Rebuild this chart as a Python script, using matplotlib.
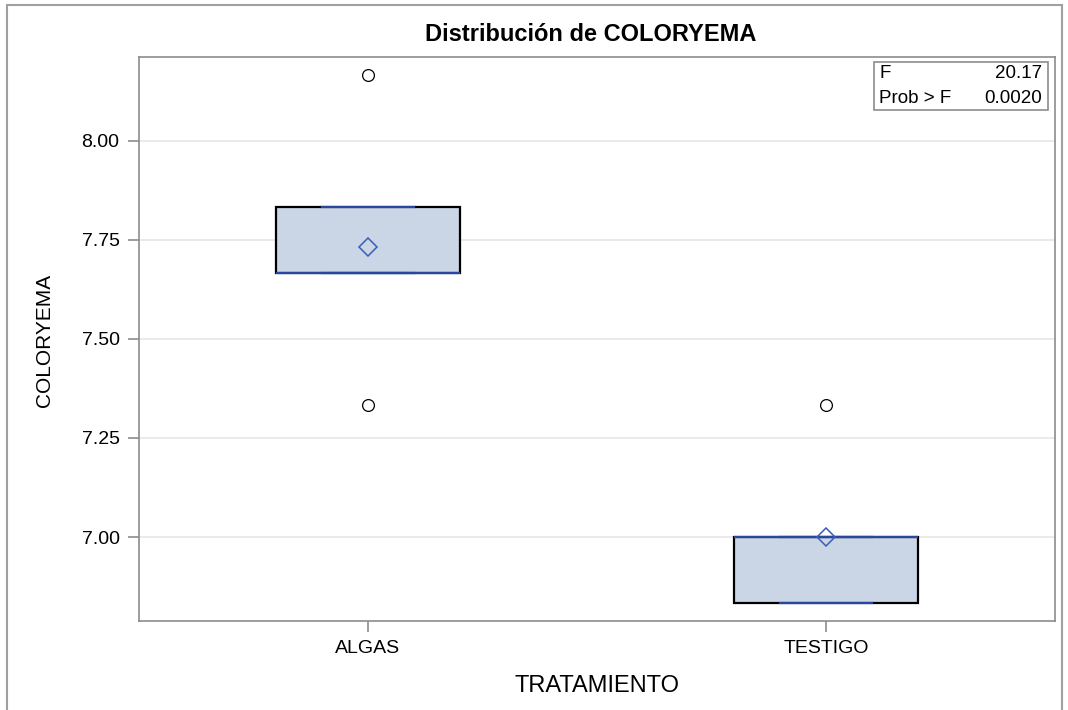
import matplotlib.pyplot as plt
from matplotlib.patches import Rectangle

# box statistics
groups = ['ALGAS', 'TESTIGO']
q1 = [7.667, 6.833]
med = [7.667, 7.0]
q3 = [7.833, 7.0]
whislo = [7.667, 6.833]
whishi = [7.833, 7.0]
means = [7.733, 7.0]
outliers = [[8.167, 7.333], [7.333]]
f_value = '20.17'
prob_f = '0.0020'

yticks = [7.00, 7.25, 7.50, 7.75, 8.00]

plt.rcParams['font.family'] = ['Liberation Sans', 'DejaVu Sans']

blue = '#2848a0'
fill = '#cad5e5'
gray = '#8c8c8c'

fig = plt.figure(figsize=(10.68, 7.10), dpi=100)
ax = fig.add_axes([0.1301, 0.1254, 0.8577, 0.7943])

stats = []
for i, g in enumerate(groups):
    stats.append(dict(label=g, q1=q1[i], med=med[i], q3=q3[i],
                      whislo=whislo[i], whishi=whishi[i],
                      mean=means[i], fliers=outliers[i]))

ax.bxp(stats, positions=[0, 1], widths=0.4, patch_artist=True,
       showmeans=True, showfliers=True,
       boxprops=dict(facecolor=fill, edgecolor='black', linewidth=1.6),
       medianprops=dict(color=blue, linewidth=1.6),
       whiskerprops=dict(color=blue, linewidth=1.6),
       capprops=dict(color=blue, linewidth=1.6),
       capwidths=0.2,
       meanprops=dict(marker='D', markerfacecolor='none', markeredgecolor='#3a5cb8',
                      markersize=9, markeredgewidth=1.1),
       flierprops=dict(marker='o', markerfacecolor='none', markeredgecolor='black',
                       markersize=8.5, markeredgewidth=0.9),
       zorder=3)

ax.set_xlim(-0.5, 1.5)
ax.set_ylim(6.788, 8.212)
ax.set_yticks(yticks)
ax.set_yticklabels(['%.2f' % v for v in yticks], fontsize=14)
ax.set_xticks([0, 1])
ax.set_xticklabels(groups, fontsize=14)
ax.yaxis.grid(True, color='#e6e6e6', linewidth=1.2, zorder=0)
ax.set_axisbelow(True)
ax.tick_params(axis='both', color=gray, length=8, width=1.2, pad=6)
ax.tick_params(axis='x', pad=6)
for s in ax.spines.values():
    s.set_color(gray)
    s.set_linewidth(1.2)

ax.set_xlabel('TRATAMIENTO', fontsize=17, va='center')
ax.set_ylabel('COLORYEMA', fontsize=15, va='center')
ax.xaxis.set_label_coords(0.5, -0.115)
ax.yaxis.set_label_coords(-0.103, 0.498)
fig.text(0.553, 0.951, 'Distribución de COLORYEMA', ha='center', va='center',
         fontsize=17, fontweight='bold')

# inset table with F statistic
ax.add_patch(Rectangle((0.8024, 0.906), 0.19, 0.085, transform=ax.transAxes,
                       facecolor='white', edgecolor=gray, linewidth=1.2, zorder=5))
ax.text(0.8079, 0.9716, 'F', transform=ax.transAxes, fontsize=13.5, va='center', zorder=6)
ax.text(0.9858, 0.9716, f_value, transform=ax.transAxes, fontsize=13.5, va='center', ha='right', zorder=6)
ax.text(0.8079, 0.927, 'Prob > F', transform=ax.transAxes, fontsize=13.5, va='center', zorder=6)
ax.text(0.9858, 0.927, prob_f, transform=ax.transAxes, fontsize=13.5, va='center', ha='right', zorder=6)

# outer frame
fig.patches.append(Rectangle((0.0066, -0.05), 0.9878, 1.043, transform=fig.transFigure,
                             facecolor='none', edgecolor='#a0a0a0', linewidth=1.5))

plt.savefig('out.png', dpi=100)
